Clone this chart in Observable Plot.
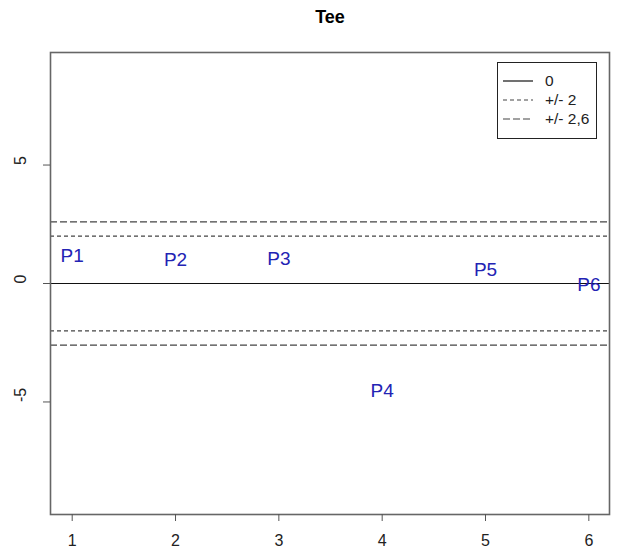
<!DOCTYPE html>
<html>
<head>
<meta charset="utf-8">
<script src="https://cdn.jsdelivr.net/npm/d3@7"></script>
<script src="https://cdn.jsdelivr.net/npm/@observablehq/plot@0.6"></script>
<style>
  html, body { margin: 0; padding: 0; background: #fff; }
  #wrap { position: relative; width: 617px; height: 548px; font-family: "Liberation Sans", Arial, sans-serif; }
  #legend { position: absolute; left: 497px; top: 62px; width: 100px; height: 77px; border: 1px solid #222; box-sizing: border-box; background: #fff; }
</style>
</head>
<body>
<div id="wrap"></div>
<script>
// Data
const pointLabels = ["P1", "P2", "P3", "P4", "P5", "P6"];
const pointX = [1, 2, 3, 4, 5, 6];
const pointY = [1.17, 0.99, 1.05, -4.53, 0.58, -0.05];
const xTicks = [1, 2, 3, 4, 5, 6];
const yTicks = [-5, 0, 5];
const innerLimit = 2;
const outerLimit = 2.6;
const legendLabels = ["0", "+/- 2", "+/- 2,6"];
const titleText = "Tee";

// Styles
const dashInner = "4,3";
const dashOuter = "7,3";
const legendDashes = [null, dashInner, dashOuter];
const pointColor = "#2323b4";
const lineGray = "#444";

const points = pointLabels.map((label, i) => ({label, x: pointX[i], y: pointY[i]}));

const chart = Plot.plot({
  width: 617,
  height: 548,
  marginLeft: 50,
  marginRight: 8,
  marginTop: 52,
  marginBottom: 34,
  style: {fontFamily: "'Liberation Sans', Arial, sans-serif", background: "#fff"},
  x: {domain: [0.79, 6.2]},
  y: {domain: [-9.75, 9.75]},
  marks: [
    Plot.ruleY([0], {stroke: "#111", strokeWidth: 1.2}),
    Plot.ruleY([innerLimit, -innerLimit], {stroke: lineGray, strokeWidth: 1.2, strokeDasharray: dashInner}),
    Plot.ruleY([outerLimit, -outerLimit], {stroke: lineGray, strokeWidth: 1.2, strokeDasharray: dashOuter}),
    Plot.text(points, {x: "x", y: "y", text: "label", fill: pointColor, fontSize: 19, lineAnchor: "middle"}),
    Plot.frame({stroke: "#666", strokeWidth: 1.6}),
    Plot.axisX({ticks: xTicks, tickSize: 7, tickFormat: () => "", label: null, stroke: "#555"}),
    Plot.axisY({ticks: yTicks, tickSize: 7, tickFormat: () => "", label: null, stroke: "#555"}),
    Plot.text(xTicks, {x: d => d, frameAnchor: "bottom", dy: 26, text: d => String(d), fontSize: 16, fill: "#222", lineAnchor: "middle"}),
    Plot.text(yTicks, {y: d => d, frameAnchor: "left", dx: -30, text: d => String(d), fontSize: 16, fill: "#222", rotate: -90, lineAnchor: "middle"}),
    Plot.text([titleText], {frameAnchor: "top", dy: -35, text: d => d, fontSize: 18, fontWeight: "bold", fill: "#000", lineAnchor: "middle"})
  ]
});

const wrap = document.getElementById("wrap");
wrap.appendChild(chart);

// Legend overlay
const legend = document.createElement("div");
legend.id = "legend";
const svgNS = "http://www.w3.org/2000/svg";
const lsvg = document.createElementNS(svgNS, "svg");
lsvg.setAttribute("width", 98);
lsvg.setAttribute("height", 75);
legendLabels.forEach((lab, i) => {
  const cy = 18 + i * 19;
  const line = document.createElementNS(svgNS, "line");
  line.setAttribute("x1", 5); line.setAttribute("x2", 35);
  line.setAttribute("y1", cy); line.setAttribute("y2", cy);
  line.setAttribute("stroke", i === 0 ? "#111" : lineGray);
  line.setAttribute("stroke-width", 1.2);
  if (legendDashes[i]) line.setAttribute("stroke-dasharray", legendDashes[i]);
  lsvg.appendChild(line);
  const t = document.createElementNS(svgNS, "text");
  t.setAttribute("x", 47); t.setAttribute("y", cy);
  t.setAttribute("dy", "0.35em");
  t.setAttribute("font-size", 15.5);
  t.setAttribute("font-family", "'Liberation Sans', Arial, sans-serif");
  t.setAttribute("fill", "#222");
  t.textContent = lab;
  lsvg.appendChild(t);
});
legend.appendChild(lsvg);
wrap.appendChild(legend);
</script>
</body>
</html>
